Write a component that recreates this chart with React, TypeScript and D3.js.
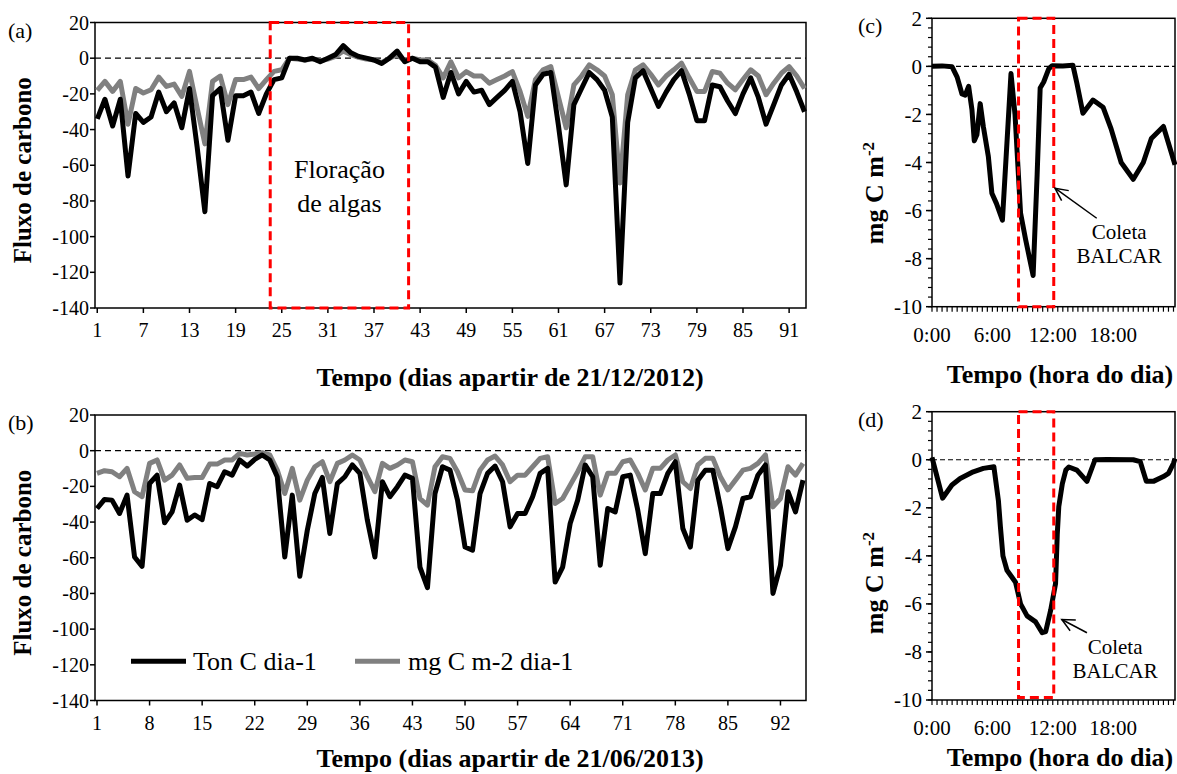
import React from 'react';
import * as d3 from 'd3';

const FONT = "'Times New Roman', 'Liberation Serif', 'DejaVu Serif', serif";

// ---------- Panel (a): 21/12/2012, 93 days ----------
const tonA = [-34, -23, -38, -23, -66, -31, -36, -33, -19, -30, -25, -39, -17, -50, -86, -21, -17, -46, -21, -21,
  -19, -31, -20, -12, -11, 0, 0, -1, 0, -2, 0, 2, 7, 3, 1, 0, -1, -3, 0, 4,
  -2, 0, -2, -2, -5, -22, -8, -20, -13, -19, -18, -26, -22, -18, -13, -30, -59, -15, -9, -8,
  -38, -71, -26, -17, -8, -12, -18, -33, -126, -36, -11, -7, -17, -27, -19, -12, -7, -20, -35, -35,
  -15, -16, -24, -31, -20, -11, -22, -37, -26, -15, -9, -19, -30];
const mgA = [-18, -13, -18.6, -13, -37, -17, -19.5, -17.7, -10.6, -15.8, -14.5, -21.4, -7.4, -28, -48, -13, -10, -26, -12, -12,
  -10.6, -17, -12, -7.4, -6.5, 0, -0.5, -1, -0.5, -1.5, -0.5, 1, 4, 2, 0.5, -0.5, -1, -2.5, 0, 2,
  -1.5, 0, -1, -1, -4, -11, -2, -11, -7.5, -10, -10, -14, -12, -10, -7.5, -18.6, -32.6, -12, -6.5, -4.7,
  -22, -39, -15, -10, -3.7, -6.5, -10, -20.5, -70, -20.5, -6.5, -3.7, -9, -15, -10, -6.5, -2.8, -11, -18.6, -18.6,
  -7.5, -8.4, -14, -17.7, -12, -6.5, -10, -20.5, -14, -8.4, -4.7, -10, -17];
const daysA = tonA.map((_, i) => i + 1);
const tickDaysA = [1, 7, 13, 19, 25, 31, 37, 43, 49, 55, 61, 67, 73, 79, 85, 91];
const bloomA = [23.5, 41.5];

// ---------- Panel (b): 21/06/2013 ----------
const tonB = [-32.4, -27.3, -27.7, -35.2, -24.9, -59.6, -64.8, -18.4, -13.7, -40.4, -34.3, -19.3, -39, -36, -38.6, -18.4, -20.2, -11.8, -13.7, -5.2,
  -8.6, -4.9, -2.4, -5.2, -14.6, -59.6, -24.9, -70.4, -44.6, -24, -15, -46.4, -18.4, -14.6, -8, -12.7, -39, -59.6, -17.4, -25.8,
  -20.2, -13.7, -15.5, -65.2, -76.8, -24, -9, -10.9, -27.7, -54, -55.8, -24, -12.7, -8.6, -17.4, -42.7, -35.2, -35.2, -25.8, -12.7,
  -9.9, -73.6, -65.2, -40.8, -27.7, -8, -14.6, -64.2, -32.4, -34.3, -14.6, -13.7, -33.3, -57.7, -24, -24, -12.7, -6.2, -43.6, -54,
  -16.5, -10.9, -10.9, -31.5, -54.9, -42.7, -26.8, -25.8, -13.7, -8, -80, -64.2, -23, -34.3, -16.5];
const mgB = [-12.7, -11.2, -11.8, -14.6, -9.9, -23, -25.8, -7.1, -5.2, -16.5, -13.7, -8, -15.5, -15, -15, -7.5, -7.5, -5.2, -5.2, -1.5,
  -2.4, -1.9, -1.1, -2.4, -10.9, -24, -9.9, -27.7, -16.5, -9, -6.2, -17.4, -7.1, -5.2, -2.4, -5.2, -14.6, -23, -7.1, -9.9,
  -8, -5.2, -6.2, -26.8, -30.5, -9, -3.4, -4.3, -11.8, -22, -22.5, -10.9, -5.2, -3, -8, -17.4, -13.7, -13.7, -9, -4.3,
  -3.4, -29.6, -26.8, -19.3, -11.8, -3.4, -3.4, -24.9, -12.7, -12.7, -6.2, -5.2, -12.7, -22, -9.9, -9.9, -5.2, -2.4, -17.4, -21.2,
  -8, -4.3, -4.3, -14.6, -22, -16.5, -10.9, -9.9, -7.1, -2.4, -31.5, -26.8, -9, -13.7, -7.1];
const daysB = tonB.map((_, i) => i + 1);
const tickDaysB = [1, 8, 15, 22, 29, 36, 43, 50, 57, 64, 71, 78, 85, 92];

const fluxTicks = [20, 0, -20, -40, -60, -80, -100, -120, -140];

// ---------- Panel (c): hourly flux ----------
const hoursC = [0, 1, 2, 2.5, 2.98, 3.3, 3.64, 3.97, 4.2, 4.46, 4.79, 5.1, 5.6, 5.95, 6.4, 7.0, 7.85, 8.25, 8.8, 9.3, 10.05, 10.45, 10.75, 11.1, 11.6, 11.95, 13, 14.0, 14.4, 15.0, 16.0, 17.0, 17.8, 18.8, 20.0, 21.0, 21.8, 23.0, 24.15];
const fluxC = [0, 0.02, -0.02, -0.45, -1.15, -1.2, -0.83, -1.8, -3.1, -2.85, -1.55, -2.5, -3.75, -5.28, -5.7, -6.4, -0.3, -2.0, -6.1, -7.2, -8.7, -4.5, -0.9, -0.65, -0.1, 0.03, 0.02, 0.05, -0.7, -1.95, -1.4, -1.7, -2.6, -4.0, -4.7, -4.0, -3.0, -2.5, -4.1];

// ---------- Panel (d): hourly flux ----------
const hoursD = [0, 1.05, 1.98, 2.8, 4.1, 5.1, 6.15, 6.6, 6.8, 7.05, 7.45, 8.3, 8.8, 9.45, 10.3, 10.95, 11.3, 11.8, 12.28, 12.45, 12.6, 12.95, 13.3, 13.6, 14.4, 15.4, 16.2, 17.4, 20.0, 20.7, 21.3, 22.0, 23.0, 23.5, 24.0, 24.15];
const fluxD = [0.1, -1.6, -1.05, -0.78, -0.5, -0.36, -0.29, -1.7, -2.8, -4.0, -4.6, -5.1, -6.0, -6.5, -6.75, -7.2, -7.15, -6.25, -5.15, -3.1, -1.95, -1.0, -0.43, -0.3, -0.43, -0.9, 0, 0.01, 0, -0.08, -0.9, -0.9, -0.7, -0.57, -0.15, 0.05];

const hourTicks = [0, 6, 12, 18];
const hourLabels = ['0:00', '6:00', '12:00', '18:00'];
const hourMinor = d3.range(0, 24.01, 0.5);
const mgTicks = [2, 0, -2, -4, -6, -8, -10];
const mgMinor = d3.range(-10, 2.01, 0.4);
const sampleWindow = [8.6, 12.1];

const BLACK = '#000000';
const GRAY = '#808080';
const RED = '#ff0000';

type DailyProps = {
  top: number; bottom: number; days: number[]; ton: number[]; mg: number[];
  ticks: number[]; label: string; title: string; titleY: number; xRange: [number, number];
  bloom?: number[]; legend?: boolean;
};

function DailyPanel({ top, bottom, days, ton, mg, ticks, label, title, titleY, xRange, bloom, legend }: DailyProps) {
  const left = 95, right = 806;
  const x = d3.scaleLinear().domain([1, days.length]).range(xRange);
  const y = d3.scaleLinear().domain([-140, 20]).range([bottom, top]);
  const line = d3.line<number>().x((_, i) => x(days[i])).y((d) => y(d));
  return (
    <g>
      <rect x={left} y={top} width={right - left} height={bottom - top} fill="none" stroke={BLACK} strokeWidth={1.5} />
      <line x1={left} x2={right} y1={y(0)} y2={y(0)} stroke={BLACK} strokeWidth={1.3} strokeDasharray="6,4" />
      {fluxTicks.map((t) => (
        <g key={t}>
          <line x1={left - 5} x2={left} y1={y(t)} y2={y(t)} stroke={BLACK} strokeWidth={1.5} />
          <text x={left - 6} y={y(t)} dy="0.35em" textAnchor="end" fontSize={20} fontFamily={FONT}>{t}</text>
        </g>
      ))}
      {ticks.map((t) => (
        <g key={t}>
          <line x1={x(t)} x2={x(t)} y1={bottom} y2={bottom + 5} stroke={BLACK} strokeWidth={1.5} />
          <text x={x(t)} y={bottom + 29} textAnchor="middle" fontSize={20} fontFamily={FONT}>{t}</text>
        </g>
      ))}
      <path d={line(mg) || ''} fill="none" stroke={GRAY} strokeWidth={5} strokeLinejoin="round" />
      <path d={line(ton) || ''} fill="none" stroke={BLACK} strokeWidth={5} strokeLinejoin="round" />
      {bloom && (
        <g>
          <rect x={x(bloom[0])} y={y(20)} width={x(bloom[1]) - x(bloom[0])} height={y(-140) - y(20)}
            fill="none" stroke={RED} strokeWidth={3} strokeDasharray="9,5" />
          <text x={(x(bloom[0]) + x(bloom[1])) / 2} y={y(-67)} textAnchor="middle" fontSize={26} fontFamily={FONT}>Floração</text>
          <text x={(x(bloom[0]) + x(bloom[1])) / 2} y={y(-86)} textAnchor="middle" fontSize={26} fontFamily={FONT}>de algas</text>
        </g>
      )}
      {legend && (
        <g>
          <line x1={131} x2={186} y1={y(-118)} y2={y(-118)} stroke={BLACK} strokeWidth={5} />
          <text x={193} y={y(-118)} dy="0.35em" fontSize={26} fontFamily={FONT}>Ton C dia-1</text>
          <line x1={355} x2={400} y1={y(-118)} y2={y(-118)} stroke={GRAY} strokeWidth={5} />
          <text x={408} y={y(-118)} dy="0.35em" fontSize={26} fontFamily={FONT}>mg C m-2 dia-1</text>
        </g>
      )}
      <text transform={`translate(31,${(top + bottom) / 2 + 5}) rotate(-90)`} textAnchor="middle" fontSize={25}
        fontWeight="bold" fontFamily={FONT}>Fluxo de carbono</text>
      <text x={8} y={top + 15} fontSize={22} fontFamily={FONT}>{label}</text>
      <text x={510} y={titleY} textAnchor="middle" fontSize={26} fontWeight="bold" fontFamily={FONT}>{title}</text>
    </g>
  );
}

type HourlyProps = {
  top: number; bottom: number; hours: number[]; flux: number[]; label: string; titleY: number; yTitleMid: number;
  arrowTip: [number, number]; arrowTail: [number, number]; textAt: [number, number]; boxBottom: number;
};

function HourlyPanel({ top, bottom, hours, flux, label, titleY, yTitleMid, arrowTip, arrowTail, textAt, boxBottom }: HourlyProps) {
  const left = 932, right = 1175;
  const x = d3.scaleLinear().domain([0, 24.15]).range([left, right]);
  const y = d3.scaleLinear().domain([-10, 2]).range([bottom, top]);
  const line = d3.line<number>().x((_, i) => x(hours[i])).y((d) => y(d)).curve(d3.curveLinear);
  const tx = x(arrowTip[0]), ty = y(arrowTip[1]);
  const sx = x(arrowTail[0]), sy = y(arrowTail[1]);
  const ang = Math.atan2(sy - ty, sx - tx);
  const head = 14;
  const h1 = [tx + head * Math.cos(ang + 0.45), ty + head * Math.sin(ang + 0.45)];
  const h2 = [tx + head * Math.cos(ang - 0.45), ty + head * Math.sin(ang - 0.45)];
  return (
    <g>
      <rect x={left} y={top} width={right - left} height={bottom - top} fill="none" stroke={BLACK} strokeWidth={1.5} />
      <line x1={left} x2={right} y1={y(0)} y2={y(0)} stroke={BLACK} strokeWidth={1.2} strokeDasharray="5,3" />
      {mgMinor.map((t) => (
        <line key={'m' + t} x1={left - 4} x2={left} y1={y(t)} y2={y(t)} stroke={BLACK} strokeWidth={1.2} />
      ))}
      {mgTicks.map((t) => (
        <g key={t}>
          <line x1={left - 6} x2={left} y1={y(t)} y2={y(t)} stroke={BLACK} strokeWidth={1.5} />
          <text x={left - 10} y={y(t)} dy="0.35em" textAnchor="end" fontSize={21} fontFamily={FONT}>{t}</text>
        </g>
      ))}
      {hourMinor.map((t) => (
        <line key={'h' + t} x1={x(t)} x2={x(t)} y1={bottom} y2={bottom + 5} stroke={BLACK} strokeWidth={1.2} />
      ))}
      {hourTicks.map((t, i) => (
        <text key={t} x={x(t)} y={bottom + 35} textAnchor="middle" fontSize={21} fontFamily={FONT}>{hourLabels[i]}</text>
      ))}
      <path d={line(flux) || ''} fill="none" stroke={BLACK} strokeWidth={5} strokeLinejoin="round" />
      <rect x={x(sampleWindow[0])} y={y(2)} width={x(sampleWindow[1]) - x(sampleWindow[0])} height={y(boxBottom) - y(2)}
        fill="none" stroke={RED} strokeWidth={3} strokeDasharray="9,5" />
      <line x1={sx} y1={sy} x2={tx} y2={ty} stroke={BLACK} strokeWidth={1.5} />
      <polyline points={`${h1[0]},${h1[1]} ${tx},${ty} ${h2[0]},${h2[1]}`} fill="none" stroke={BLACK} strokeWidth={1.5} />
      <text x={x(textAt[0])} y={y(textAt[1])} textAnchor="middle" fontSize={21} fontFamily={FONT}>Coleta</text>
      <text x={x(textAt[0])} y={y(textAt[1]) + 24} textAnchor="middle" fontSize={21} fontFamily={FONT}>BALCAR</text>
      <text transform={`translate(883,${yTitleMid}) rotate(-90)`} textAnchor="middle" fontSize={26}
        fontWeight="bold" fontFamily={FONT}>mg C m<tspan dy="-9" fontSize={17}>-2</tspan></text>
      <text x={858} y={top + 15} fontSize={22} fontFamily={FONT}>{label}</text>
      <text x={1060} y={titleY} textAnchor="middle" fontSize={26} fontWeight="bold" fontFamily={FONT}>Tempo (hora do dia)</text>
    </g>
  );
}

export default function App() {
  return (
    <svg width={1177} height={774} style={{ display: 'block', position: 'absolute', left: 0, top: 0, background: '#fff' }}>
      <rect width={1177} height={774} fill="#fff" />
      <DailyPanel top={22.5} bottom={308} days={daysA} ton={tonA} mg={mgA} ticks={tickDaysA} label="(a)"
        title="Tempo (dias apartir de 21/12/2012)" titleY={386} xRange={[97.25, 804.5]} bloom={bloomA} />
      <DailyPanel top={415} bottom={700.5} days={daysB} ton={tonB} mg={mgB} ticks={tickDaysB} label="(b)"
        title="Tempo (dias apartir de 21/06/2013)" titleY={767} xRange={[97, 803]} legend />
      <HourlyPanel top={18.3} bottom={306.7} hours={hoursC} flux={fluxC} label="(c)" titleY={383} yTitleMid={193}
        arrowTip={[12.22, -5.07]} arrowTail={[16.37, -6.32]} textAt={[18.6, -7.2]} boxBottom={-10} />
      <HourlyPanel top={411.7} bottom={700} hours={hoursD} flux={fluxD} label="(d)" titleY={766} yTitleMid={583}
        arrowTip={[12.9, -6.65]} arrowTail={[15.4, -7.2]} textAt={[18.2, -8.1]} boxBottom={-9.9} />
    </svg>
  );
}
